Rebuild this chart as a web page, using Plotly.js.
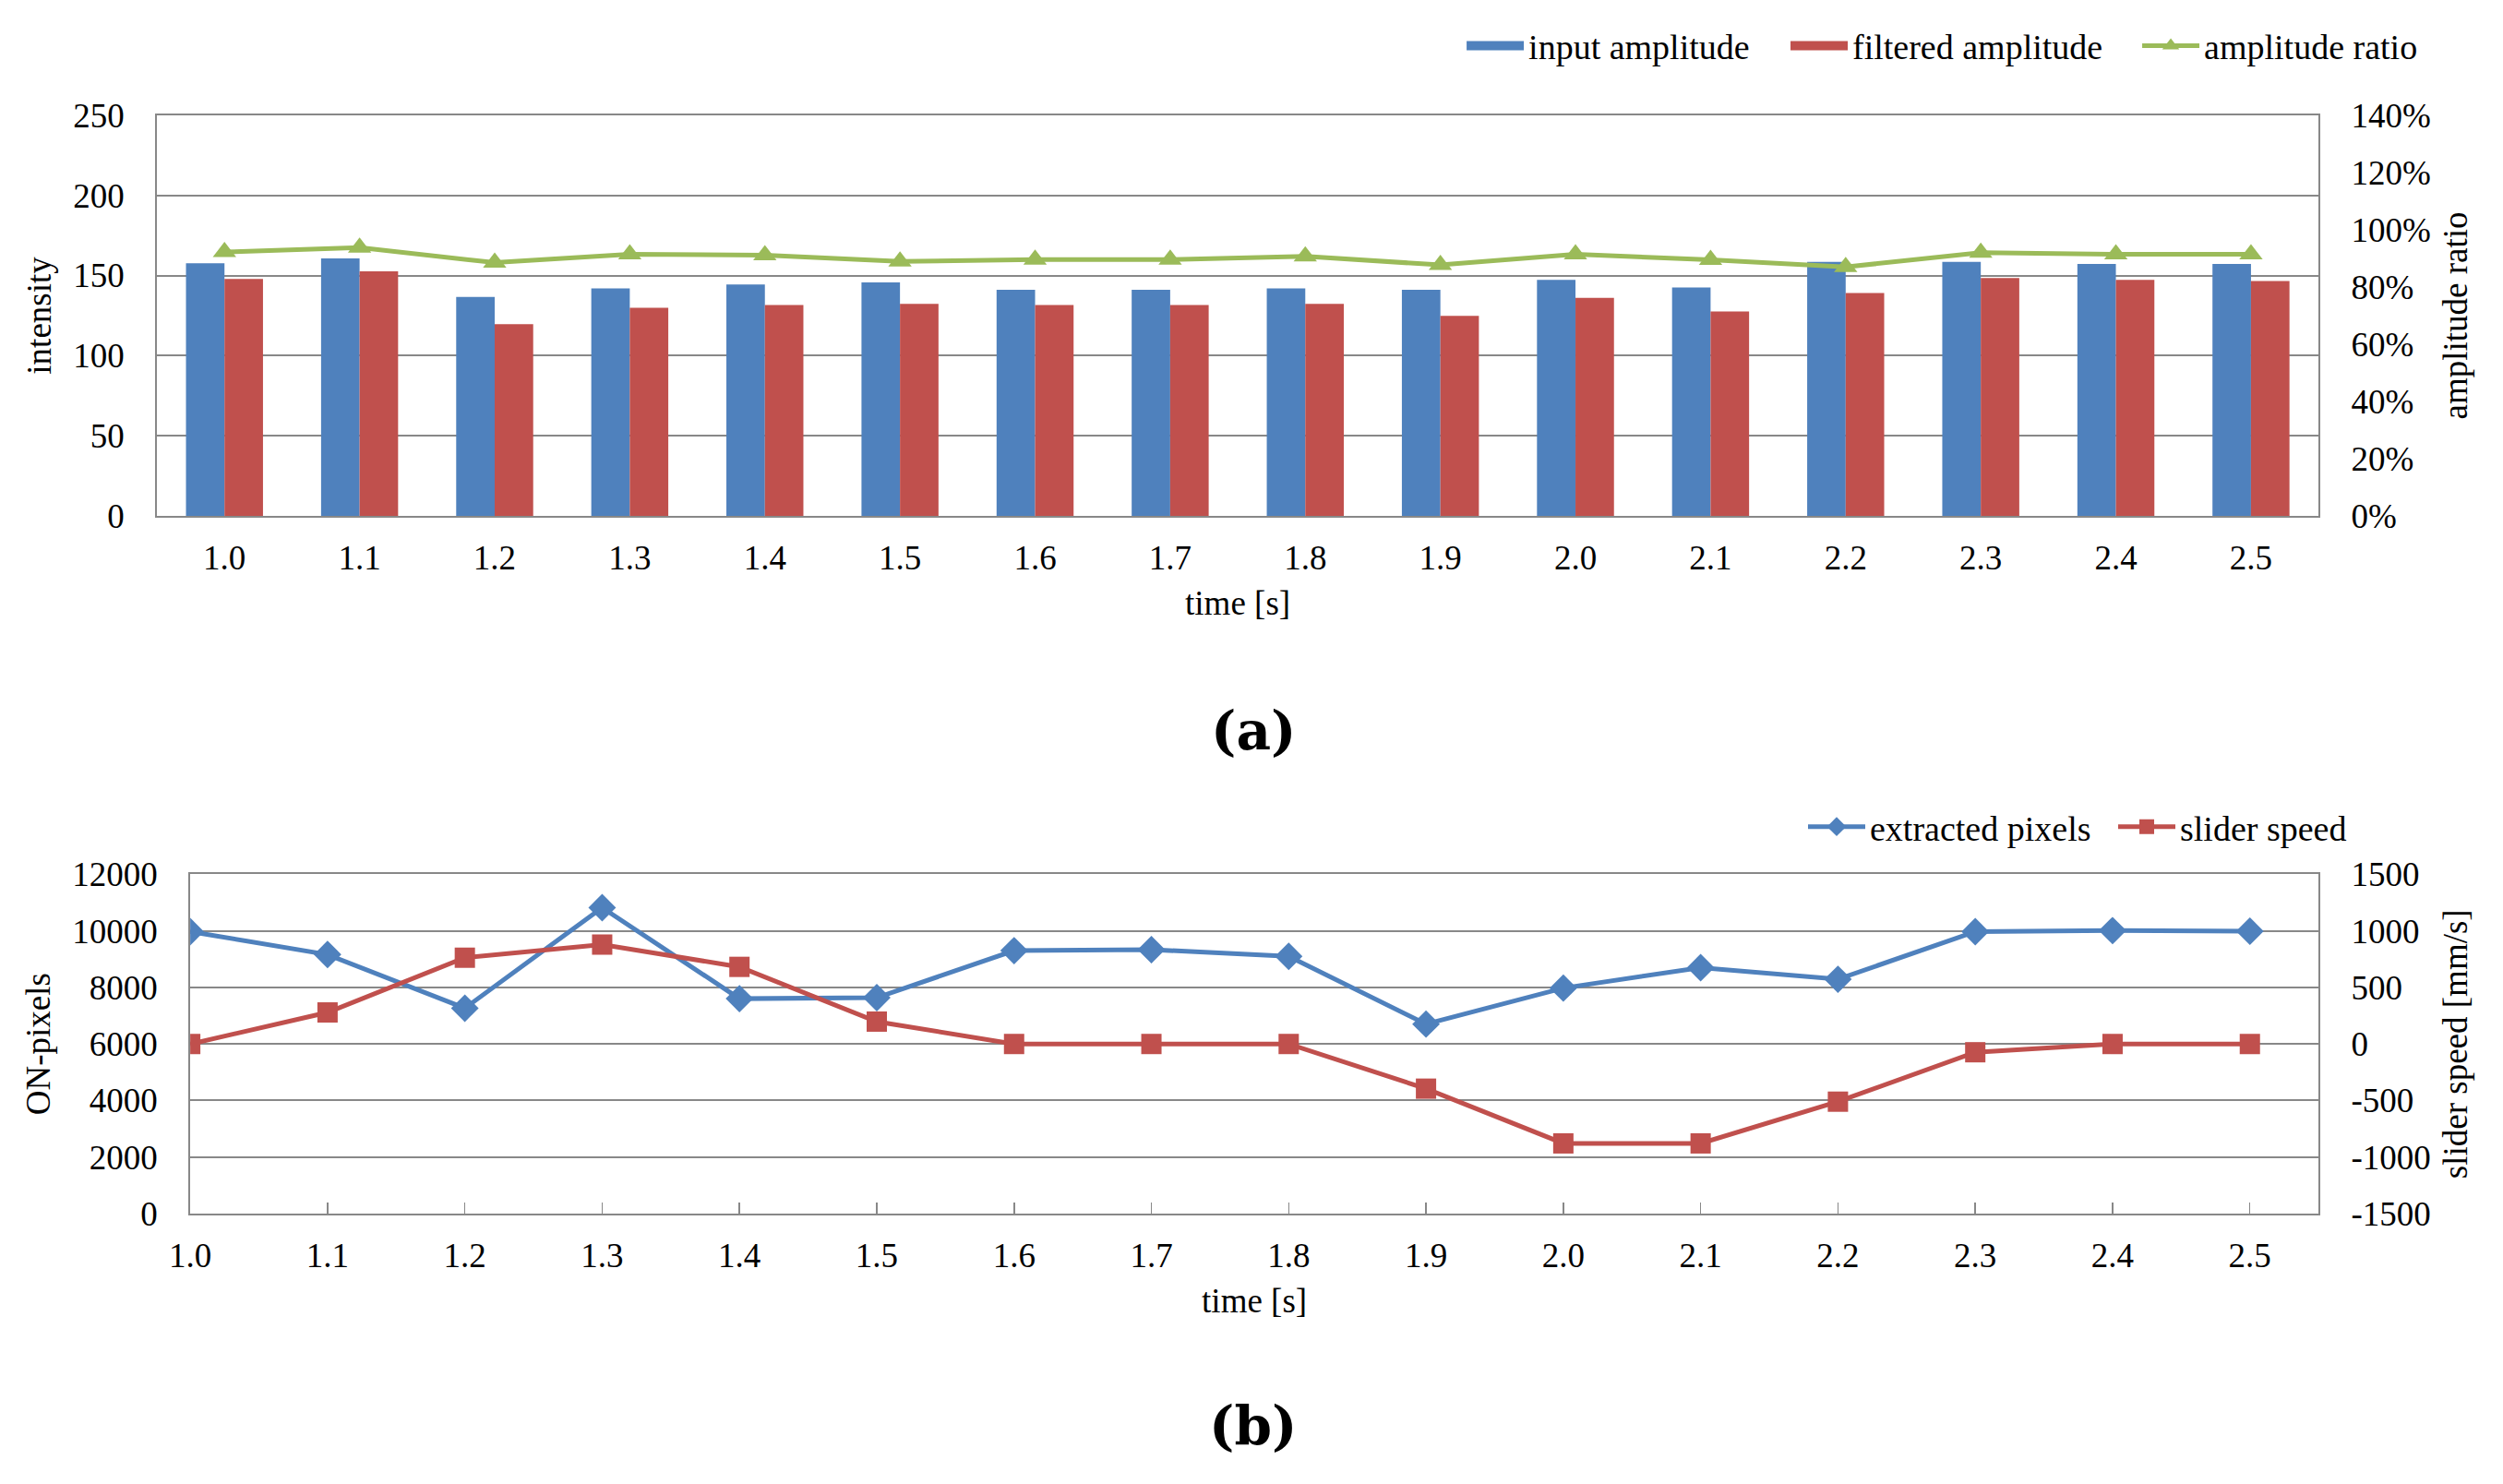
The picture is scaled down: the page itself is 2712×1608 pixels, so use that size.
<!DOCTYPE html>
<html>
<head>
<meta charset="utf-8">
<script src="https://cdn.plot.ly/plotly-3.0.1.min.js"></script>
<style>
  html, body { margin: 0; padding: 0; background: #fff; }
  #chart { width: 2712px; height: 1608px; }
</style>
</head>
<body>
<div id="chart"></div>
<script>
// values
const timeLabels = ["1.0", "1.1", "1.2", "1.3", "1.4", "1.5", "1.6", "1.7",
                    "1.8", "1.9", "2.0", "2.1", "2.2", "2.3", "2.4", "2.5"];

// (a) amplitudes and their ratio
const inputAmplitude = [157.6, 160.7, 136.7, 142.0, 144.4, 145.7, 141.1, 141.1,
                        142.0, 141.1, 147.3, 142.6, 158.5, 158.5, 157.2, 157.2];
const filteredAmplitude = [147.9, 152.6, 119.7, 129.9, 131.6, 132.3, 131.6, 131.6,
                           132.3, 124.8, 136.0, 127.6, 139.1, 148.4, 147.3, 146.6];
const amplitudeRatio = [0.922, 0.938, 0.885, 0.914, 0.911, 0.889, 0.896, 0.896,
                        0.907, 0.877, 0.914, 0.895, 0.870, 0.920, 0.914, 0.914];

// (b) ON-pixels and slider speed
const extractedPixels = [9975, 9164, 7266, 10824, 7603, 7640, 9301, 9338,
                         9101, 6704, 7978, 8702, 8290, 9975, 10012, 9988];
const sliderSpeed = [0, 279, 763, 879, 682, 198, 0, 0,
                     0, -395, -879, -879, -510, -73, 0, 0];

const speedTicks = [-1500, -1000, -500, 0, 500, 1000, 1500];
const speedTickLabels = ["-1500", "-1000", "-500", "0", "500", "1000", "1500"];

const FONT = '"Liberation Serif", "Times New Roman", serif';
const GRID = "#888888";
const BLUE = "#4F81BD";
const RED = "#C0504D";
const GREEN = "#9BBB59";

const tickFont = () => ({family: FONT, size: 37, color: "#000"});
const titleFont = () => ({family: FONT, size: 37, color: "#000"});

function legendBox(x, y) {
    // one legend per entry so each sits where the original puts it
    return {
        orientation: "h",
        x: x,
        xanchor: "left",
        y: y,
        yanchor: "middle",
        font: {family: FONT, size: 38, color: "#000"},
        itemwidth: 62,
        bgcolor: "rgba(0,0,0,0)",
        borderwidth: 0
    };
}

const traces = [
    {
        type: "bar",
        x: timeLabels,
        y: inputAmplitude,
        name: "input amplitude",
        marker: {color: BLUE},
        showlegend: false,
        xaxis: "x",
        yaxis: "y"
    },
    {
        type: "bar",
        x: timeLabels,
        y: filteredAmplitude,
        name: "filtered amplitude",
        marker: {color: RED},
        showlegend: false,
        xaxis: "x",
        yaxis: "y"
    },
    // legend swatches for the bars (wide blocks like the original)
    {
        type: "scatter",
        mode: "lines",
        x: [null],
        y: [null],
        name: "input amplitude",
        line: {color: BLUE, width: 20},
        hoverinfo: "skip",
        xaxis: "x",
        yaxis: "y",
        legend: "legend"
    },
    {
        type: "scatter",
        mode: "lines",
        x: [null],
        y: [null],
        name: "filtered amplitude",
        line: {color: RED, width: 20},
        hoverinfo: "skip",
        xaxis: "x",
        yaxis: "y",
        legend: "legend2"
    },
    {
        type: "scatter",
        mode: "lines+markers",
        x: timeLabels,
        y: amplitudeRatio,
        name: "amplitude ratio",
        line: {color: GREEN, width: 5},
        marker: {symbol: "triangle-up", size: 22, color: GREEN},
        xaxis: "x",
        yaxis: "y2",
        legend: "legend3"
    },
    {
        type: "scatter",
        mode: "lines+markers",
        x: timeLabels,
        y: extractedPixels,
        name: "extracted pixels",
        line: {color: BLUE, width: 5},
        marker: {symbol: "diamond", size: 23, color: BLUE},
        xaxis: "x2",
        yaxis: "y3",
        legend: "legend4"
    },
    {
        type: "scatter",
        mode: "lines+markers",
        x: timeLabels,
        y: sliderSpeed,
        name: "slider speed",
        line: {color: RED, width: 5},
        marker: {symbol: "square", size: 22, color: RED},
        xaxis: "x2",
        yaxis: "y4",
        legend: "legend5"
    }
];

const layout = {
    width: 2712,
    height: 1608,
    margin: {l: 0, r: 0, t: 0, b: 0},
    paper_bgcolor: "#fff",
    plot_bgcolor: "#fff",
    font: {family: FONT, size: 37, color: "#000"},
    barmode: "group",
    bargap: 0.43,
    bargroupgap: 0,
    xaxis: {
        domain: [0.0627, 0.9263],
        anchor: "y",
        type: "category",
        range: [-0.5, 15.5],
        showgrid: false,
        showline: true,
        mirror: true,
        linecolor: GRID,
        linewidth: 2,
        ticks: "",
        ticklabelstandoff: 12,
        tickfont: tickFont(),
        title: {text: "time [s]", font: titleFont(), standoff: 16}
    },
    yaxis: {
        domain: [0.6524, 0.9223],
        anchor: "x",
        range: [0, 250],
        dtick: 50,
        showline: true,
        linecolor: GRID,
        linewidth: 2,
        gridcolor: GRID,
        gridwidth: 2,
        zeroline: false,
        ticks: "",
        ticklabelstandoff: 26,
        tickfont: tickFont(),
        title: {text: "intensity", font: titleFont(), standoff: 12}
    },
    yaxis2: {
        overlaying: "y",
        anchor: "x",
        side: "right",
        range: [0, 1.4],
        dtick: 0.2,
        tickformat: ".0%",
        showgrid: false,
        zeroline: false,
        showline: true,
        linecolor: GRID,
        linewidth: 2,
        ticks: "",
        ticklabelstandoff: 26,
        tickfont: tickFont(),
        title: {text: "amplitude ratio", font: titleFont(), standoff: 14}
    },
    xaxis2: {
        domain: [0.0760, 0.9263],
        anchor: "y3",
        type: "category",
        range: [0, 15.5],
        showgrid: false,
        showline: true,
        mirror: true,
        linecolor: GRID,
        linewidth: 2,
        ticks: "inside",
        ticklen: 12,
        tickwidth: 1.5,
        tickcolor: GRID,
        ticklabelstandoff: 12,
        tickfont: tickFont(),
        title: {text: "time [s]", font: titleFont(), standoff: 16}
    },
    yaxis3: {
        domain: [0.1822, 0.4108],
        anchor: "x2",
        range: [0, 12000],
        dtick: 2000,
        tickformat: "d",
        showline: true,
        linecolor: GRID,
        linewidth: 2,
        gridcolor: GRID,
        gridwidth: 2,
        zeroline: false,
        ticks: "",
        ticklabelstandoff: 26,
        tickfont: tickFont(),
        title: {text: "ON-pixels", font: titleFont(), standoff: 12}
    },
    yaxis4: {
        overlaying: "y3",
        anchor: "x2",
        side: "right",
        range: [-1500, 1500],
        tickmode: "array",
        tickvals: speedTicks,
        ticktext: speedTickLabels,
        showgrid: false,
        zeroline: false,
        showline: true,
        linecolor: GRID,
        linewidth: 2,
        ticks: "",
        ticklabelstandoff: 26,
        tickfont: tickFont(),
        title: {text: "slider speed [mm/s]", font: titleFont(), standoff: 14}
    },
    legend: legendBox(0.5841, 0.969),
    legend2: legendBox(0.7135, 0.969),
    legend3: legendBox(0.8540, 0.969),
    legend4: legendBox(0.7205, 0.4428),
    legend5: legendBox(0.8444, 0.4428),
    annotations: [
        {
            text: "<b>(a)</b>",
            xref: "paper", yref: "paper",
            x: 0.5007, y: 0.5075,
            xanchor: "center", yanchor: "middle",
            showarrow: false,
            font: {family: "DejaVu Serif, serif", size: 58, color: "#000"}
        },
        {
            text: "<b>(b)</b>",
            xref: "paper", yref: "paper",
            x: 0.5007, y: 0.039,
            xanchor: "center", yanchor: "middle",
            showarrow: false,
            font: {family: "DejaVu Serif, serif", size: 58, color: "#000"}
        }
    ]
};

Plotly.newPlot("chart", traces, layout, {staticPlot: true});
</script>
</body>
</html>
